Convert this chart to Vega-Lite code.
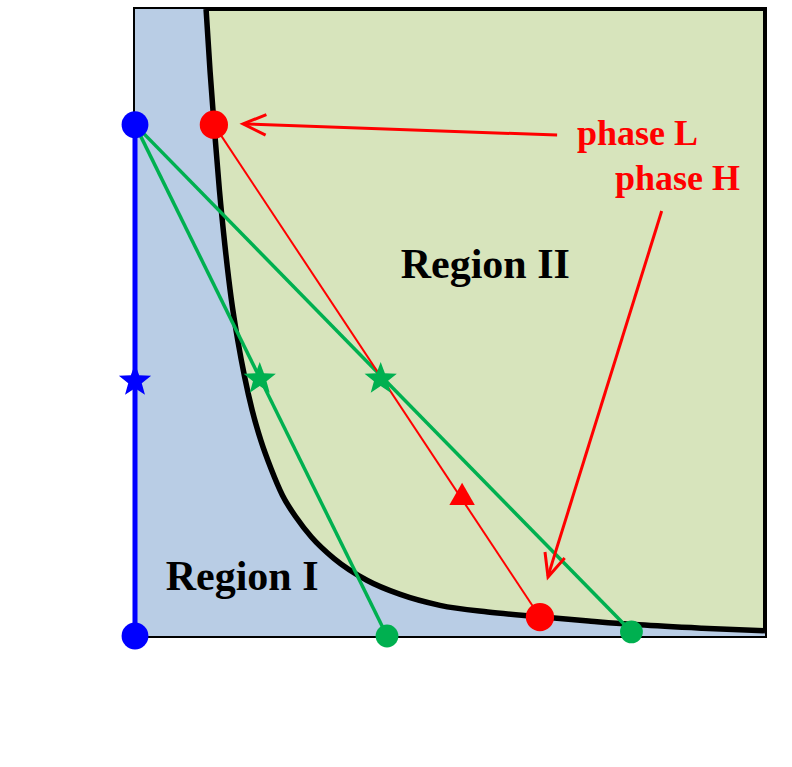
{
  "$schema": "https://vega.github.io/schema/vega-lite/v6.json",
  "width": 630,
  "height": 627,
  "autosize": {"type": "none"},
  "padding": {"left": 135, "top": 9, "right": 27, "bottom": 131},
  "background": "white",
  "config": {
    "font": "Liberation Serif",
    "view": {"fill": "#d7e4bc", "stroke": "black", "strokeWidth": 4}
  },
  "datasets": {
    "region": [
      {"x": 0, "y": 45},
      {"x": 2.82, "y": 45}, {"x": 2.98, "y": 40.5}, {"x": 3.15, "y": 36.4}, {"x": 3.35, "y": 32},
      {"x": 3.57, "y": 28}, {"x": 3.82, "y": 24.2}, {"x": 4.08, "y": 21.2}, {"x": 4.35, "y": 18.6},
      {"x": 4.65, "y": 16.2}, {"x": 5.0, "y": 14.0}, {"x": 5.4, "y": 12.0}, {"x": 5.85, "y": 10.1},
      {"x": 6.4, "y": 8.5}, {"x": 7.0, "y": 7.1}, {"x": 7.9, "y": 5.55}, {"x": 9.2, "y": 4.0},
      {"x": 10.5, "y": 3.0}, {"x": 12.1, "y": 2.2}, {"x": 14.0, "y": 1.72}, {"x": 16.07, "y": 1.38},
      {"x": 18.0, "y": 1.08}, {"x": 20.0, "y": 0.8}, {"x": 22.5, "y": 0.56}, {"x": 25.0, "y": 0.38}
    ],
    "curve": [
      {"x": 2.82, "y": 45}, {"x": 2.98, "y": 40.5}, {"x": 3.15, "y": 36.4}, {"x": 3.35, "y": 32},
      {"x": 3.57, "y": 28}, {"x": 3.82, "y": 24.2}, {"x": 4.08, "y": 21.2}, {"x": 4.35, "y": 18.6},
      {"x": 4.65, "y": 16.2}, {"x": 5.0, "y": 14.0}, {"x": 5.4, "y": 12.0}, {"x": 5.85, "y": 10.1},
      {"x": 6.4, "y": 8.5}, {"x": 7.0, "y": 7.1}, {"x": 7.9, "y": 5.55}, {"x": 9.2, "y": 4.0},
      {"x": 10.5, "y": 3.0}, {"x": 12.1, "y": 2.2}, {"x": 14.0, "y": 1.72}, {"x": 16.07, "y": 1.38},
      {"x": 18.0, "y": 1.08}, {"x": 20.0, "y": 0.8}, {"x": 22.5, "y": 0.56}, {"x": 25.0, "y": 0.38}
    ]
  },
  "layer": [
    {
      "data": {"name": "region"},
      "mark": {"type": "area", "color": "#b9cde5", "clip": true},
      "encoding": {
        "x": {"field": "x", "type": "quantitative",
          "scale": {"domain": [0, 25], "nice": false, "zero": false},
          "axis": {"orient": "bottom", "values": [0, 5, 10, 15, 20, 25],
            "grid": false, "domain": false,
            "ticks": true, "tickSize": 8, "tickColor": "black", "tickWidth": 2,
            "labelFontSize": 46, "labelColor": "black", "labelPadding": 3,
            "labelFlush": false, "labelOverlap": false,
            "title": "Na₂SO₄ concentration [% w/w]", "titleFontSize": 48,
            "titleFontWeight": "normal", "titleColor": "black", "titlePadding": 14,
            "titleX": 285}},
        "y": {"field": "y", "type": "quantitative",
          "scale": {"domain": [0, 45], "nice": false},
          "axis": {"orient": "left", "values": [0, 10, 20, 30, 40],
            "grid": false, "domain": false,
            "ticks": true, "tickSize": 8, "tickColor": "black", "tickWidth": 2,
            "labelFontSize": 46, "labelColor": "black", "labelPadding": 3,
            "labelFlush": false, "labelOverlap": false,
            "title": "PEG concentration [% w/w]", "titleFontSize": 54,
            "titleFontWeight": "normal", "titleColor": "black", "titlePadding": 12,
            "titleY": 350}}
      }
    },
    {
      "data": {"name": "curve"},
      "mark": {"type": "line", "color": "black", "strokeWidth": 5.5, "interpolate": "monotone", "clip": true},
      "encoding": {
        "x": {"field": "x", "type": "quantitative", "axis": null},
        "y": {"field": "y", "type": "quantitative", "axis": null}
      }
    },
    {
      "data": {"values": [{"x": 0, "y": 36.7}, {"x": 10, "y": 0}]},
      "mark": {"type": "line", "color": "#00b050", "strokeWidth": 3.5},
      "encoding": {
        "x": {"field": "x", "type": "quantitative", "axis": null},
        "y": {"field": "y", "type": "quantitative", "axis": null}
      }
    },
    {
      "data": {"values": [{"x": 0, "y": 36.7}, {"x": 19.7, "y": 0.3}]},
      "mark": {"type": "line", "color": "#00b050", "strokeWidth": 3.5},
      "encoding": {
        "x": {"field": "x", "type": "quantitative", "axis": null},
        "y": {"field": "y", "type": "quantitative", "axis": null}
      }
    },
    {
      "data": {"values": [{"x": 3.13, "y": 36.7}, {"x": 16.07, "y": 1.36}]},
      "mark": {"type": "line", "color": "#ff0000", "strokeWidth": 2},
      "encoding": {
        "x": {"field": "x", "type": "quantitative", "axis": null},
        "y": {"field": "y", "type": "quantitative", "axis": null}
      }
    },
    {
      "data": {"values": [{"x": 0, "y": 0, "y2": 36.7}]},
      "mark": {"type": "rule", "color": "#0000ff", "strokeWidth": 5},
      "encoding": {
        "x": {"field": "x", "type": "quantitative", "axis": null},
        "y": {"field": "y", "type": "quantitative", "axis": null},
        "y2": {"field": "y2"}
      }
    },
    {
      "data": {"values": [
        {"label": "phase L", "x": 16.75, "y": 35.95, "x2": 4.35, "y2": 36.75},
        {"label": "phase H", "x": 20.9, "y": 30.5, "x2": 16.39, "y2": 4.3}
      ]},
      "mark": {"type": "rule", "color": "#ff0000", "strokeWidth": 3},
      "encoding": {
        "x": {"field": "x", "type": "quantitative", "axis": null},
        "y": {"field": "y", "type": "quantitative", "axis": null},
        "x2": {"field": "x2"},
        "y2": {"field": "y2"}
      }
    },
    {
      "data": {"values": [{"x": 4.29, "y": 36.75}]},
      "mark": {"type": "point", "shape": "M-1,-0.45L0,0L-1,0.45", "filled": false, "stroke": "#ff0000", "strokeWidth": 3, "size": 2100, "angle": 182.2, "opacity": 1},
      "encoding": {
        "x": {"field": "x", "type": "quantitative", "axis": null},
        "y": {"field": "y", "type": "quantitative", "axis": null}
      }
    },
    {
      "data": {"values": [{"x": 16.39, "y": 4.24}]},
      "mark": {"type": "point", "shape": "M-1,-0.45L0,0L-1,0.45", "filled": false, "stroke": "#ff0000", "strokeWidth": 3, "size": 2100, "angle": 107.3, "opacity": 1},
      "encoding": {
        "x": {"field": "x", "type": "quantitative", "axis": null},
        "y": {"field": "y", "type": "quantitative", "axis": null}
      }
    },
    {
      "data": {"values": [{"x": 4.95, "y": 18.45}, {"x": 9.75, "y": 18.45}]},
      "mark": {"type": "point", "shape": "M0,-1L0.247,-0.34L0.951,-0.309L0.399,0.13L0.588,0.809L0,0.42L-0.588,0.809L-0.399,0.13L-0.951,-0.309L-0.247,-0.34Z", "filled": true, "color": "#00b050", "size": 1150, "opacity": 1},
      "encoding": {
        "x": {"field": "x", "type": "quantitative", "axis": null},
        "y": {"field": "y", "type": "quantitative", "axis": null}
      }
    },
    {
      "data": {"values": [{"x": 0, "y": 18.3}]},
      "mark": {"type": "point", "shape": "M0,-1L0.247,-0.34L0.951,-0.309L0.399,0.13L0.588,0.809L0,0.42L-0.588,0.809L-0.399,0.13L-0.951,-0.309L-0.247,-0.34Z", "filled": true, "color": "#0000ff", "size": 1150, "opacity": 1},
      "encoding": {
        "x": {"field": "x", "type": "quantitative", "axis": null},
        "y": {"field": "y", "type": "quantitative", "axis": null}
      }
    },
    {
      "data": {"values": [{"x": 10, "y": 0}, {"x": 19.7, "y": 0.3}]},
      "mark": {"type": "circle", "color": "#00b050", "size": 520, "opacity": 1},
      "encoding": {
        "x": {"field": "x", "type": "quantitative", "axis": null},
        "y": {"field": "y", "type": "quantitative", "axis": null}
      }
    },
    {
      "data": {"values": [{"x": 3.13, "y": 36.7}, {"x": 16.07, "y": 1.36}]},
      "mark": {"type": "circle", "color": "#ff0000", "size": 800, "opacity": 1},
      "encoding": {
        "x": {"field": "x", "type": "quantitative", "axis": null},
        "y": {"field": "y", "type": "quantitative", "axis": null}
      }
    },
    {
      "data": {"values": [{"x": 12.98, "y": 10.2}]},
      "mark": {"type": "point", "shape": "triangle-up", "filled": true, "color": "#ff0000", "size": 650, "opacity": 1},
      "encoding": {
        "x": {"field": "x", "type": "quantitative", "axis": null},
        "y": {"field": "y", "type": "quantitative", "axis": null}
      }
    },
    {
      "data": {"values": [{"x": 0, "y": 36.7}, {"x": 0, "y": 0}]},
      "mark": {"type": "circle", "color": "#0000ff", "size": 720, "opacity": 1},
      "encoding": {
        "x": {"field": "x", "type": "quantitative", "axis": null},
        "y": {"field": "y", "type": "quantitative", "axis": null}
      }
    },
    {
      "data": {"values": [{"x": 13.9, "y": 25.7, "label": "Region II"}, {"x": 4.25, "y": 3.3, "label": "Region I"}]},
      "mark": {"type": "text", "font": "Liberation Serif", "fontSize": 42, "fontWeight": "bold", "color": "black", "align": "center", "baseline": "alphabetic"},
      "encoding": {
        "x": {"field": "x", "type": "quantitative", "axis": null},
        "y": {"field": "y", "type": "quantitative", "axis": null},
        "text": {"field": "label"}
      }
    },
    {
      "data": {"values": [{"x": 17.54, "y": 35.25, "label": "phase L"}, {"x": 19.05, "y": 32.0, "label": "phase H"}]},
      "mark": {"type": "text", "font": "Liberation Serif", "fontSize": 36, "fontWeight": "bold", "color": "#ff0000", "align": "left", "baseline": "alphabetic"},
      "encoding": {
        "x": {"field": "x", "type": "quantitative", "axis": null},
        "y": {"field": "y", "type": "quantitative", "axis": null},
        "text": {"field": "label"}
      }
    }
  ]
}
